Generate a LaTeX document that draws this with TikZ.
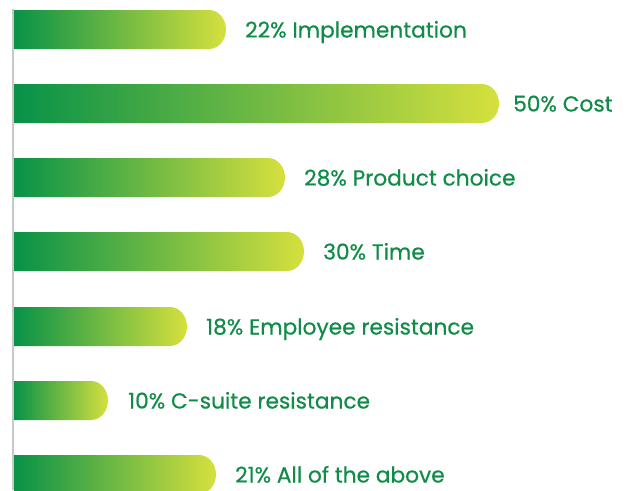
\documentclass[tikz,border=0pt]{standalone}
\usepackage{fontspec}
\setmainfont{Poppins}
\newfontfamily\lblfont{Poppins}[FakeBold=0.6]
\definecolor{txtgreen}{RGB}{16,140,72}
\definecolor{barleft}{RGB}{8,146,72}
\definecolor{barright}{RGB}{214,224,62}
\definecolor{axisgray}{RGB}{200,200,200}
\tikzset{
  barshape/.style={left color=barleft, right color=barright, draw=none},
  lbl/.style={anchor=base west, text=txtgreen, font=\lblfont\fontsize{21.7}{24}\selectfont, inner sep=0pt},
}
\begin{document}
\begin{tikzpicture}[x=1pt,y=-1pt]
\useasboundingbox (0,0) rectangle (628,490);
\draw[axisgray, line width=2pt] (13,9) -- (13,490);
% bars: top y, right x
\foreach \t/\r/\n in {10/226/a, 84/499/b, 158/285/c, 232/304/d, 307/187/e, 381/108/f, 455/216/g}{
  \shade[barshape] (14,\t) -- (\r-17,\t) arc[start angle=90, end angle=-90, x radius=17, y radius=-19.5] -- (14,\t+39) -- cycle;
  \coordinate (end\n) at (\r,\t+19.5);
}
\node[lbl] (la) at (245,37.5) {22\% Implementation};
\node[lbl] (lb) at (513,111.5) {50\% Cost};
\node[lbl] (lc) at (304,185.5) {28\% Product choice};
\node[lbl] (ld) at (323,259.5) {30\% Time};
\node[lbl] (le) at (206,334.5) {18\% Employee resistance};
\node[lbl] (lf) at (128,408.5) {10\% C-suite resistance};
\node[lbl] (lg) at (235,482.5) {21\% All of the above};
\end{tikzpicture}
\end{document}
